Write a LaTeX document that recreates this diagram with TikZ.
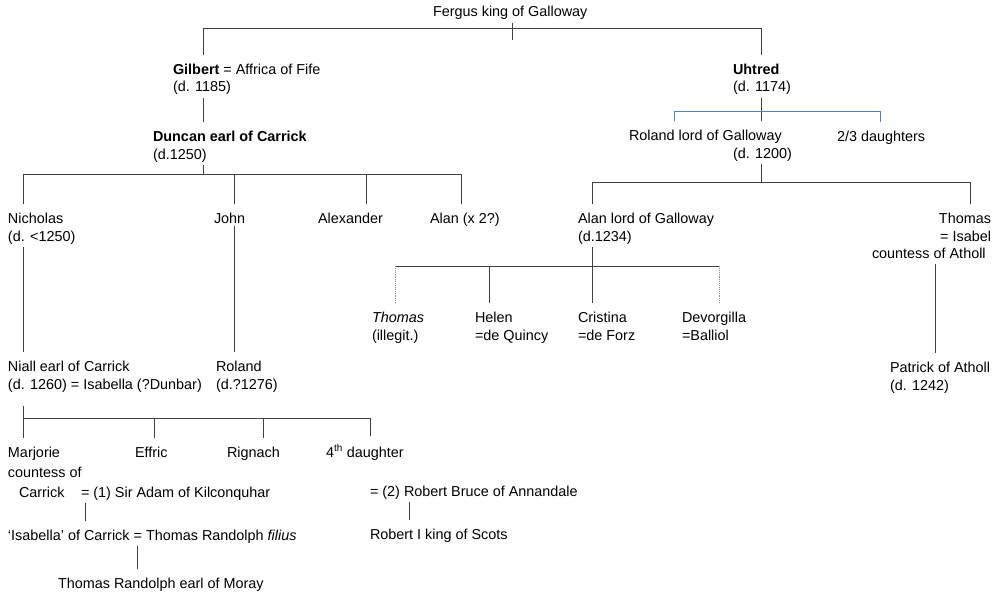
\documentclass[tikz,border=0pt]{standalone}
\usepackage{fontspec}
\setmainfont{Liberation Sans}

\begin{document}
\begin{tikzpicture}[
        %Environment config
        x=1pt, y=-1pt,
        font=\fontsize{14.4}{17.5}\selectfont,
        %Environment styles (base anchor = baseline of the last line)
        PersonCfg/.style={inner sep=0pt, outer sep=0pt, align=left, anchor=base west},
        LineCfg/.style={draw=black!75, line width=0.9pt},
        KidCfg/.style={LineCfg, shorten >=9pt},
        DropCfg/.style={LineCfg, shorten <=3pt},
        BlueCfg/.style={draw={rgb,255:red,79;green,129;blue,189}, line width=0.9pt},
        IllegitCfg/.style={draw=black!45, line width=0.9pt, densely dotted, shorten >=9pt}
    ]
    \useasboundingbox (0,0) rectangle (1003,594);

    % people
    \path
        (433,17) node[PersonCfg](fergus){Fergus king of Galloway}
        (173,92) node[PersonCfg](gilbert){\textbf{Gilbert} = Affrica of Fife\\(d. 1185)}
        (153,159) node[PersonCfg](duncan){\textbf{Duncan earl of Carrick}\\(d.1250)}
        (733,92) node[PersonCfg](uhtred){\textbf{Uhtred}\\(d. 1174)}
        (629,158) node[PersonCfg](rolandL){Roland lord of Galloway\\\hspace*{104pt}(d. 1200)}
        (837,141) node[PersonCfg](daughters){2/3 daughters}
        (8,241) node[PersonCfg](nicholas){Nicholas\\(d. <1250)}
        (214,223) node[PersonCfg](john){John}
        (318,223) node[PersonCfg](alexander){Alexander}
        (430,223) node[PersonCfg](alanX){Alan (x 2?)}
        (578,241) node[PersonCfg](alanL){Alan lord of Galloway\\(d.1234)}
        (991,241) node[PersonCfg, align=right, anchor=base east](thomasA){Thomas\\= Isabel}
        (872,258) node[PersonCfg](atholl){countess of Atholl}
        (372,340) node[PersonCfg](thomasI){\textit{Thomas}\\(illegit.)}
        (475,340) node[PersonCfg](helen){Helen\\=de Quincy}
        (578,340) node[PersonCfg](cristina){Cristina\\=de Forz}
        (682,340) node[PersonCfg](devorgilla){Devorgilla\\=Balliol}
        (890,390) node[PersonCfg](patrick){Patrick of Atholl\\(d. 1242)}
        (8,389) node[PersonCfg](niall){Niall earl of Carrick\\(d. 1260) = Isabella (?Dunbar)}
        (216,389) node[PersonCfg](roland){Roland\\(d.?1276)}
        (8,497) node[PersonCfg](marjorie){Marjorie\\[2.5pt]countess of\\[2.5pt]\hspace*{11pt}Carrick}
        (81,497) node[PersonCfg](kil){= (1) Sir Adam of Kilconquhar}
        (135,457) node[PersonCfg](effric){Effric}
        (227,457) node[PersonCfg](rignach){Rignach}
        (326,457) node[PersonCfg](daughter4){4\textsuperscript{th} daughter}
        (370,496) node[PersonCfg](bruce){= (2) Robert Bruce of Annandale}
        (8,540) node[PersonCfg](isabella){‘Isabella’ of Carrick = Thomas Randolph \textit{filius}}
        (370,539) node[PersonCfg](robert){Robert I king of Scots}
        (58,588) node[PersonCfg](moray){Thomas Randolph earl of Moray};

    % bus points
    \path
        (203,28) coordinate (topL)
        (761,28) coordinate (topR)
        (512,40) coordinate (fTick)
        (674,111) coordinate (bL)
        (880,111) coordinate (bR)
        (203,174) coordinate (dRoot)
        (23,174) coordinate (dL)
        (234,174) coordinate (dJohn)
        (366,174) coordinate (dAlex)
        (461,174) coordinate (dR)
        (761,182) coordinate (rRoot)
        (592,182) coordinate (rL)
        (970,182) coordinate (rR)
        (395,266) coordinate (aL)
        (489,266) coordinate (aHel)
        (719,266) coordinate (aR)
        (935,300) coordinate (tDrop)
        (23,418) coordinate (nL)
        (154,418) coordinate (nEff)
        (263,418) coordinate (nRig)
        (370,418) coordinate (nR)
        (85,510) coordinate (kDrop)
        (137,560) coordinate (iDrop)
        (409,515) coordinate (bDrop);

    % Fergus
    \draw[DropCfg] (fergus.south -| fTick) -- (fTick);
    \draw[LineCfg] (topL) -- (topR);
    \draw[KidCfg] (topL) -- (gilbert.north -| topL);
    \draw[KidCfg] (topR) -- (uhtred.north -| topR);

    % Carrick line
    \draw[DropCfg, shorten >=9pt] (gilbert.south -| topL) -- (duncan.north -| topL);
    \draw[DropCfg] (duncan.south -| dRoot) -- (dRoot);
    \draw[LineCfg] (dL) -- (dR);
    \draw[KidCfg] (dL) -- (nicholas.north -| dL);
    \draw[KidCfg] (dJohn) -- (john.north -| dJohn);
    \draw[KidCfg] (dAlex) -- (alexander.north -| dAlex);
    \draw[KidCfg] (dR) -- (alanX.north -| dR);
    \draw[DropCfg, shorten >=9pt] (nicholas.south -| dL) -- (niall.north -| dL);
    \draw[DropCfg, shorten >=9pt] (john.south -| dJohn) -- (roland.north -| dJohn);
    \draw[LineCfg, shorten <=14pt] (niall.south -| nL) -- (nL);
    \draw[LineCfg] (nL) -- (nR);
    \draw[KidCfg] (nL) -- (marjorie.north -| nL);
    \draw[KidCfg] (nEff) -- (effric.north -| nEff);
    \draw[KidCfg] (nRig) -- (rignach.north -| nRig);
    \draw[KidCfg] (nR) -- (daughter4.north -| nR);
    \draw[DropCfg, shorten >=9pt] (kil.south -| kDrop) -- (isabella.north -| kDrop);
    \draw[DropCfg, shorten >=9pt] (isabella.south -| iDrop) -- (moray.north -| iDrop);
    \draw[DropCfg, shorten >=9pt] (bruce.south -| bDrop) -- (robert.north -| bDrop);

    % Galloway line
    \draw[DropCfg, shorten >=9pt] (uhtred.south -| topR) -- (rolandL.north -| topR);
    \draw[BlueCfg] (bL) -- (bR);
    \draw[BlueCfg, shorten >=9pt] (bL) -- (rolandL.north -| bL);
    \draw[BlueCfg, shorten >=9pt] (bR) -- (daughters.north -| bR);
    \draw[DropCfg] (rolandL.south -| rRoot) -- (rRoot);
    \draw[LineCfg] (rL) -- (rR);
    \draw[KidCfg] (rL) -- (alanL.north -| rL);
    \draw[KidCfg] (rR) -- (thomasA.north -| rR);
    \draw[DropCfg, shorten >=9pt] (alanL.south -| rL) -- (cristina.north -| rL);
    \draw[LineCfg] (aL) -- (aR);
    \draw[IllegitCfg] (aL) -- (thomasI.north -| aL);
    \draw[KidCfg] (aHel) -- (helen.north -| aHel);
    \draw[IllegitCfg] (aR) -- (devorgilla.north -| aR);
    \draw[DropCfg, shorten <=6pt, shorten >=9pt] (atholl.south -| tDrop) -- (patrick.north -| tDrop);
\end{tikzpicture}
\end{document}
